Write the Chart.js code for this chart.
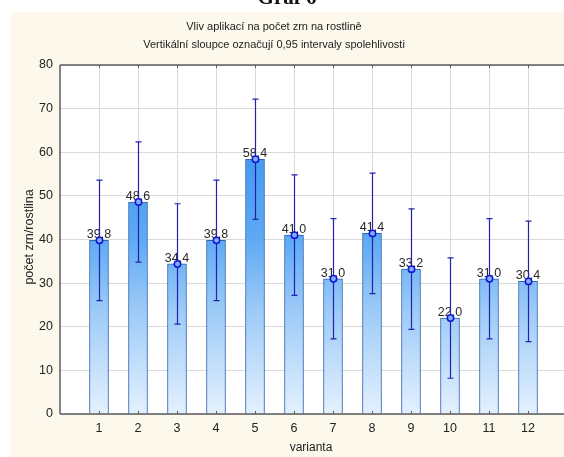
<!DOCTYPE html>
<html>
<head>
<meta charset="utf-8">
<script src="https://cdn.jsdelivr.net/npm/chart.js@4/dist/chart.umd.min.js"></script>
<style>
  html, body { margin: 0; padding: 0; overflow: hidden; background: #ffffff; }
  #wrap { position: relative; width: 564px; height: 457px; overflow: hidden; }
  canvas { display: block; }
</style>
</head>
<body>
<div id="wrap"><canvas id="c" width="568" height="457"></canvas></div>
<script>
// Variants and group means with their 0.95 confidence limits
const categories = ['1', '2', '3', '4', '5', '6', '7', '8', '9', '10', '11', '12'];
const means  = [39.8, 48.6, 34.4, 39.8, 58.4, 41.0, 31.0, 41.4, 33.2, 22.0, 31.0, 30.4];
const ciLow  = [26.0, 34.8, 20.6, 26.0, 44.6, 27.2, 17.2, 27.6, 19.4, 8.2, 17.2, 16.6];
const ciHigh = [53.6, 62.4, 48.2, 53.6, 72.2, 54.8, 44.8, 55.2, 47.0, 35.8, 44.8, 44.2];
const yTicks = [0, 10, 20, 30, 40, 50, 60, 70, 80];

const pageTitle = 'Graf 6';
const titleLines = ['Vliv aplikací na počet zrn na rostlině',
                    'Vertikální sloupce označují 0,95 intervaly spolehlivosti'];
const xTitle = 'varianta';
const yTitle = 'počet zrn/rostlina';

const FONT = "'Liberation Sans', Arial, sans-serif";
const fmt = v => v.toFixed(1).replace('.', ',');

// Panel background, plot frame, titles
const decor = {
  id: 'decor',
  beforeDraw(chart) {
    const ctx = chart.ctx, a = chart.chartArea;
    ctx.save();
    ctx.fillStyle = '#ffffff';
    ctx.fillRect(0, 0, chart.width, chart.height);
    ctx.fillStyle = '#fdf8ec';
    ctx.fillRect(11, 12, chart.width - 11, chart.height - 12);
    ctx.fillStyle = '#ffffff';
    ctx.fillRect(a.left, a.top, a.right - a.left, a.bottom - a.top);

    ctx.fillStyle = '#111111';
    ctx.font = 'bold 21px "Liberation Serif", "Times New Roman", serif';
    ctx.textAlign = 'center';
    ctx.textBaseline = 'alphabetic';
    ctx.fillText(pageTitle, 287, 4);

    ctx.fillStyle = '#222222';
    ctx.font = '11px ' + FONT;
    ctx.textBaseline = 'middle';
    ctx.fillText(titleLines[0], 274, 27);
    ctx.fillText(titleLines[1], 274, 45);

    ctx.font = '12px ' + FONT;
    ctx.fillText(xTitle, 311, 448);
    ctx.font = '12.5px ' + FONT;
    ctx.translate(30, 237);
    ctx.rotate(-Math.PI / 2);
    ctx.fillText(yTitle, 0, 0);
    ctx.restore();
  },
  afterDatasetsDraw(chart) {
    const ctx = chart.ctx, a = chart.chartArea;
    const xs = chart.scales.x, ys = chart.scales.y;
    ctx.save();
    // frame lines and inner category ticks
    ctx.strokeStyle = '#5c5c5c';
    ctx.lineWidth = 1.5;
    ctx.beginPath();
    ctx.moveTo(a.left, a.top); ctx.lineTo(a.right, a.top);
    ctx.moveTo(a.left, a.top); ctx.lineTo(a.left, a.bottom);
    ctx.moveTo(a.left, a.bottom); ctx.lineTo(a.right, a.bottom);
    ctx.stroke();
    ctx.lineWidth = 1;
    ctx.beginPath();
    categories.forEach((c, i) => {
      const x = Math.round(xs.getPixelForValue(i + 1)) + 0.5;
      ctx.moveTo(x, a.top); ctx.lineTo(x, a.top + 3);
      ctx.moveTo(x, a.bottom); ctx.lineTo(x, a.bottom - 3);
    });
    ctx.stroke();

    // value labels
    ctx.fillStyle = '#2a2a2a';
    ctx.font = '12.5px ' + FONT;
    ctx.textAlign = 'center';
    ctx.textBaseline = 'alphabetic';
    means.forEach((m, i) => {
      ctx.fillText(fmt(m), xs.getPixelForValue(i + 1), ys.getPixelForValue(m) - 2);
    });

    // confidence interval whiskers with mean markers
    ctx.strokeStyle = '#2222b0';
    ctx.lineWidth = 1.2;
    means.forEach((m, i) => {
      const x = Math.round(xs.getPixelForValue(i + 1)) + 0.5;
      const yl = ys.getPixelForValue(ciLow[i]);
      const yh = ys.getPixelForValue(ciHigh[i]);
      ctx.beginPath();
      ctx.moveTo(x, yl); ctx.lineTo(x, yh);
      ctx.moveTo(x - 3, yl); ctx.lineTo(x + 3, yl);
      ctx.moveTo(x - 3, yh); ctx.lineTo(x + 3, yh);
      ctx.stroke();
    });
    means.forEach((m, i) => {
      const x = Math.round(xs.getPixelForValue(i + 1)) + 0.5;
      const y = ys.getPixelForValue(m);
      ctx.beginPath();
      ctx.arc(x, y, 3.2, 0, Math.PI * 2);
      ctx.fillStyle = '#7fb0ff';
      ctx.fill();
      ctx.strokeStyle = '#1414d2';
      ctx.lineWidth = 1.5;
      ctx.stroke();
    });
    ctx.restore();
  }
};

function barFill(context) {
  const a = context.chart.chartArea;
  if (!a) return '#6aaef3';
  const g = context.chart.ctx.createLinearGradient(0, a.bottom, 0, a.top);
  g.addColorStop(0.0, '#e4f1fe');
  g.addColorStop(0.3, '#9ccaf7');
  g.addColorStop(0.5, '#5eaaf4');
  g.addColorStop(0.75, '#4298f1');
  g.addColorStop(1.0, '#3590ee');
  return g;
}

new Chart(document.getElementById('c'), {
  type: 'bar',
  data: {
    datasets: [{
      data: means.map((v, i) => ({ x: i + 1, y: v })),
      backgroundColor: barFill,
      borderColor: '#2f62b0',
      borderWidth: 1,
      barThickness: 19
    }]
  },
  plugins: [decor],
  options: {
    responsive: false,
    animation: false,
    devicePixelRatio: 1,
    layout: { padding: { left: 0, top: 65, right: 1, bottom: 0 } },
    plugins: { legend: { display: false }, tooltip: { enabled: false }, title: { display: false } },
    scales: {
      x: {
        type: 'linear',
        offset: false,
        min: 0,
        max: 13,
        afterBuildTicks(scale) { scale.ticks = categories.map((c, i) => ({ value: i + 1 })); },
        afterFit(scale) { scale.height = 43; },
        grid: { color: '#dadada', drawTicks: false, offset: false },
        border: { display: false },
        ticks: {
          padding: 7,
          color: '#222222',
          font: { family: FONT, size: 12.5 },
          callback: v => categories[v - 1] ?? ''
        }
      },
      y: {
        min: 0,
        max: 80,
        afterBuildTicks(scale) { scale.ticks = yTicks.map(v => ({ value: v })); },
        afterFit(scale) { scale.width = 60; },
        grid: { color: '#dadada', drawTicks: false },
        border: { display: false },
        ticks: {
          padding: 7,
          color: '#222222',
          font: { family: FONT, size: 12.5 }
        }
      }
    }
  }
});
</script>
</body>
</html>
